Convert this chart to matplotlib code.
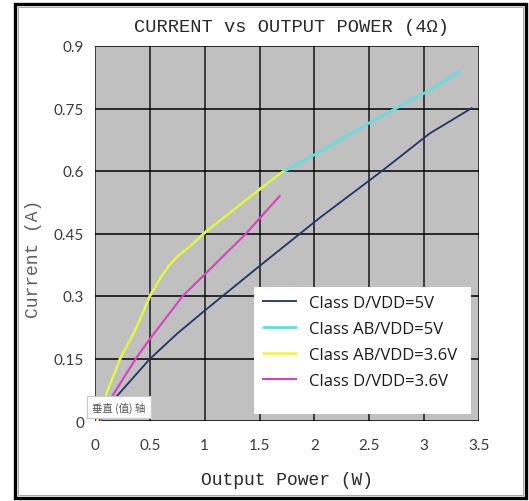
import matplotlib
matplotlib.use("Agg")
import matplotlib.pyplot as plt
from matplotlib.patches import Rectangle

# ---- data ----
d5_x = [0.03, 0.2, 0.5, 0.75, 1.0, 1.5, 2.05, 2.6, 3.05, 3.44]
d5_y = [0.0, 0.06, 0.149, 0.21, 0.265, 0.372, 0.488, 0.597, 0.69, 0.752]

ab5_x = [0.02, 0.11, 0.23, 0.37, 0.5, 0.6, 0.68, 0.76, 0.87, 1.0, 1.5, 1.73, 2.02, 2.53, 3.05, 3.33]
ab5_y = [0.0, 0.07, 0.15, 0.22, 0.30, 0.345, 0.375, 0.397, 0.42, 0.452, 0.556, 0.60, 0.642, 0.72, 0.794, 0.84]

ab36_x = [0.02, 0.11, 0.23, 0.37, 0.5, 0.6, 0.68, 0.76, 0.87, 1.0, 1.5, 1.72]
ab36_y = [0.0, 0.07, 0.15, 0.22, 0.30, 0.345, 0.375, 0.397, 0.42, 0.452, 0.556, 0.60]

d36_x = [0.05, 0.17, 0.37, 0.5, 0.8, 1.0, 1.37, 1.52, 1.69]
d36_y = [0.0, 0.065, 0.149, 0.197, 0.30, 0.352, 0.448, 0.492, 0.542]

labels = ["Class D/VDD=5V", "Class AB/VDD=5V", "Class AB/VDD=3.6V", "Class D/VDD=3.6V"]
colors = ["#1f3566", "#66dede", "#f2f23c", "#dc40c0"]

x_ticks = [0, 0.5, 1, 1.5, 2, 2.5, 3, 3.5]
x_tick_labels = ["0", "0.5", "1", "1.5", "2", "2.5", "3", "3.5"]
y_ticks = [0, 0.15, 0.3, 0.45, 0.6, 0.75, 0.9]
y_tick_labels = ["0", "0.15", "0.3", "0.45", "0.6", "0.75", "0.9"]

title = "CURRENT vs OUTPUT POWER (4Ω)"
xlabel = "Output Power (W)"
ylabel = "Current (A)"
tooltip = "垂直 (值) 轴"

W, H = 529, 502
fig = plt.figure(figsize=(W / 100, H / 100), dpi=100)
fig.patch.set_facecolor("white")

L, R, T, B = 95, 479, 47, 422
ax = fig.add_axes([L / W, 1 - B / H, (R - L) / W, (B - T) / H])
ax.set_facecolor("#c0c0c0")
ax.set_xlim(0, 3.5)
ax.set_ylim(0, 0.9)

for s in ax.spines.values():
    s.set_visible(False)

ax.set_xticks(x_ticks)
ax.set_xticklabels(x_tick_labels)
ax.set_yticks(y_ticks)
ax.set_yticklabels(y_tick_labels)
ax.tick_params(axis="both", length=0, labelsize=11, colors="#3a3a3a")
ax.tick_params(axis="x", pad=12)
ax.tick_params(axis="y", pad=8)
for lab in ax.get_xticklabels() + ax.get_yticklabels():
    lab.set_fontfamily("Lato")

for xv in x_ticks:
    ax.axvline(xv, color="#303030", lw=1.3, zorder=1)
for yv in y_ticks:
    ax.axhline(yv, color="#000000", lw=1.1, zorder=1)

series = [(d5_x, d5_y), (ab5_x, ab5_y), (ab36_x, ab36_y), (d36_x, d36_y)]
widths = [1.3, 2.0, 1.8, 1.5]
handles = []
for (xs, ys), lab, c, lw in zip(series, labels, colors, widths):
    h, = ax.plot(xs, ys, color=c, lw=lw, label=lab, zorder=3, solid_capstyle="butt")
    handles.append(h)

# legend box
lx0, ly0, lx1, ly1 = 254, 288, 471, 415
ax.add_patch(Rectangle(((lx0 - L) / (R - L), 1 - (ly1 - T) / (B - T)),
                       (lx1 - lx0) / (R - L), (ly1 - ly0) / (B - T),
                       transform=ax.transAxes, facecolor="white", edgecolor="none", zorder=4))
leg = ax.legend(handles=handles, loc="upper left",
                bbox_to_anchor=((lx0 - L) / (R - L), 1 - (ly0 - T) / (B - T)),
                frameon=False, prop={"family": "Open Sans", "size": 12},
                handlelength=2.1, handletextpad=0.75, labelspacing=0.6,
                borderpad=0.45, borderaxespad=0)
leg.set_zorder(5)
for t in leg.get_texts():
    t.set_color("#1a1a1a")

# titles
serif = ["Liberation Mono", "DejaVu Sans Mono"]
fig.text(292 / W, 1 - 27 / H, title, ha="center", va="center", fontsize=13.5,
         family=serif, color="#2a2a2a")
fig.text(287 / W, 1 - 481 / H, xlabel, ha="center", va="center", fontsize=13,
         family=serif, color="#2a2a2a")
fig.text(33 / W, 1 - 259 / H, ylabel, ha="center", va="center", fontsize=13,
         family=serif, color="#606060", rotation=90)

# tooltip
fig.text(119 / W, 1 - 408 / H, tooltip, ha="center", va="center", fontsize=7.5,
         family=["Noto Sans CJK SC", "DejaVu Sans"], color="#555555", zorder=10,
         bbox=dict(boxstyle="square,pad=0.55", facecolor="#fbfbfb", edgecolor="#c8c8c8", lw=0.8))

# outer frame
fig.patches.append(Rectangle((14.5 / W, 1 - 498.5 / H), (526 - 14.5) / W, (498.5 - 5) / H,
                             transform=fig.transFigure, fill=False, edgecolor="black", lw=2.4))
fig.patches.append(Rectangle((17.5 / W, 1 - 495.5 / H), (523 - 17.5) / W, (495.5 - 8) / H,
                             transform=fig.transFigure, fill=False, edgecolor="#9a9a9a", lw=0.6))

fig.savefig("out.png", dpi=100)
